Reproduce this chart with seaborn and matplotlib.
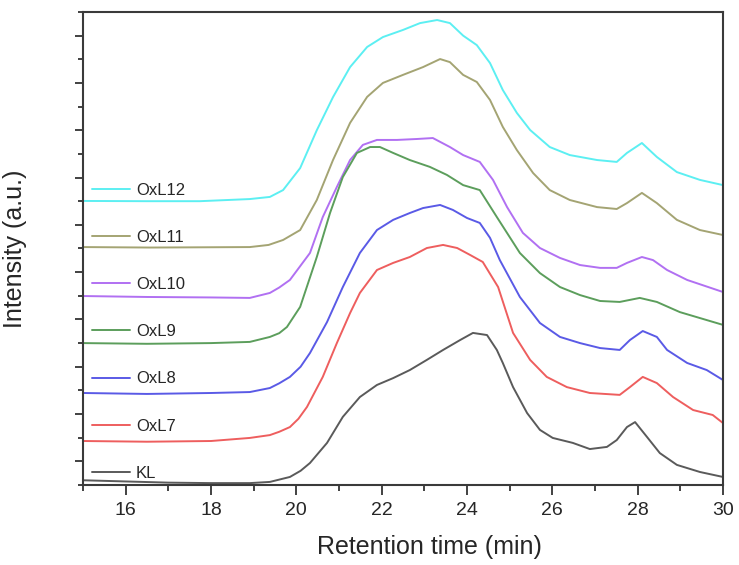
import numpy as np
import pandas as pd
import matplotlib
matplotlib.use("Agg")
import matplotlib.pyplot as plt
from matplotlib.ticker import MultipleLocator, FixedLocator
import seaborn as sns

# GPC traces (retention time in min, stacked intensity in a.u.)
kl_t = [15.0, 16.0, 17.0, 18.0, 18.91, 19.38, 19.85, 20.10, 20.32, 20.72, 21.09, 21.49, 21.89,
        22.27, 22.66, 23.06, 23.44, 23.84, 24.14, 24.47, 24.70, 24.84, 25.08, 25.41, 25.71,
        26.01, 26.48, 26.88, 27.28, 27.51, 27.75, 27.94, 28.22, 28.52, 28.92, 29.46, 30.0]
kl_y = [0.20, 0.15, 0.10, 0.08, 0.08, 0.13, 0.34, 0.60, 0.93, 1.78, 2.88, 3.72, 4.23,
        4.52, 4.86, 5.29, 5.71, 6.13, 6.43, 6.34, 5.71, 5.16, 4.14, 3.04, 2.33,
        1.99, 1.78, 1.52, 1.61, 1.90, 2.45, 2.66, 2.03, 1.35, 0.85, 0.55, 0.34]

oxl7_t = [15.0, 16.5, 18.0, 18.91, 19.38, 19.60, 19.85, 20.05, 20.25, 20.62, 20.95, 21.26, 21.49,
          21.89, 22.27, 22.66, 23.06, 23.44, 23.77, 24.07, 24.37, 24.73, 25.08, 25.48, 25.87,
          26.34, 26.88, 27.58, 27.82, 28.12, 28.45, 28.83, 29.30, 29.76, 30.0]
oxl7_y = [1.86, 1.83, 1.86, 1.99, 2.11, 2.25, 2.45, 2.80, 3.30, 4.57, 6.00, 7.27, 8.12,
          9.09, 9.39, 9.64, 10.02, 10.15, 10.02, 9.73, 9.43, 8.37, 6.43, 5.29, 4.57,
          4.14, 3.89, 3.81, 4.14, 4.57, 4.31, 3.72, 3.17, 2.96, 2.62]

oxl8_t = [15.0, 16.5, 18.0, 18.91, 19.38, 19.60, 19.85, 20.10, 20.32, 20.72, 21.09, 21.49,
          21.89, 22.27, 22.66, 22.97, 23.37, 23.67, 24.0, 24.30, 24.54, 24.77, 25.24, 25.71,
          26.18, 26.65, 27.12, 27.58, 27.82, 28.12, 28.45, 28.69, 29.16, 29.62, 30.0]
oxl8_y = [3.89, 3.85, 3.89, 3.93, 4.10, 4.30, 4.57, 5.00, 5.58, 6.89, 8.37, 9.81,
          10.78, 11.21, 11.50, 11.71, 11.84, 11.63, 11.29, 11.08, 10.45, 9.51, 7.95, 6.85,
          6.26, 6.00, 5.79, 5.71, 6.13, 6.51, 6.26, 5.71, 5.16, 4.86, 4.44]

oxl9_t = [15.0, 16.5, 18.0, 18.91, 19.38, 19.60, 19.78, 20.09, 20.48, 20.79, 21.09, 21.42,
          21.73, 21.96, 22.27, 22.66, 23.13, 23.53, 23.91, 24.30, 24.70, 25.24, 25.71, 26.18,
          26.65, 27.12, 27.58, 28.05, 28.45, 28.99, 30.0]
oxl9_y = [6.00, 5.97, 6.00, 6.05, 6.26, 6.42, 6.68, 7.53, 9.64, 11.50, 13.02, 14.04,
          14.29, 14.29, 14.04, 13.74, 13.45, 13.11, 12.68, 12.47, 11.33, 9.81, 8.96, 8.37,
          8.03, 7.78, 7.74, 7.91, 7.74, 7.31, 6.77]

oxl10_t = [15.0, 16.5, 18.0, 18.91, 19.38, 19.60, 19.85, 20.32, 20.62, 20.95, 21.26, 21.56,
           21.89, 22.36, 22.83, 23.20, 23.60, 23.91, 24.30, 24.61, 24.94, 25.31, 25.71, 26.18,
           26.65, 27.12, 27.51, 27.75, 28.10, 28.36, 28.69, 29.16, 30.0]
oxl10_y = [7.99, 7.95, 7.93, 7.91, 8.12, 8.35, 8.67, 9.81, 11.33, 12.60, 13.74, 14.38,
           14.59, 14.59, 14.63, 14.67, 14.29, 13.95, 13.66, 12.90, 11.75, 10.66, 10.02, 9.60,
           9.30, 9.18, 9.18, 9.39, 9.64, 9.51, 9.09, 8.67, 8.16]

oxl11_t = [15.0, 16.57, 18.91, 19.35, 19.69, 20.09, 20.48, 20.86, 21.26, 21.66, 22.03, 22.50,
           22.97, 23.37, 23.60, 23.91, 24.23, 24.54, 24.84, 25.17, 25.55, 25.94, 26.41, 27.05,
           27.51, 27.75, 28.10, 28.45, 28.92, 29.46, 30.0]
oxl11_y = [10.06, 10.04, 10.06, 10.15, 10.36, 10.78, 12.05, 13.74, 15.31, 16.41, 17.00, 17.34,
           17.67, 18.01, 17.88, 17.34, 17.04, 16.28, 15.14, 14.16, 13.19, 12.47, 12.05, 11.75,
           11.67, 11.92, 12.35, 11.92, 11.21, 10.78, 10.57]

oxl12_t = [15.0, 16.5, 17.74, 18.91, 19.38, 19.69, 20.09, 20.48, 20.86, 21.26, 21.66, 22.03,
           22.50, 22.90, 23.30, 23.60, 23.91, 24.23, 24.54, 24.84, 25.17, 25.48, 25.94, 26.41,
           27.05, 27.51, 27.75, 28.10, 28.45, 28.92, 29.46, 30.0]
oxl12_y = [12.01, 12.00, 12.00, 12.09, 12.18, 12.47, 13.40, 15.00, 16.40, 17.67, 18.52, 18.94,
           19.24, 19.53, 19.66, 19.53, 19.00, 18.60, 17.84, 16.70, 15.73, 15.01, 14.29, 13.95,
           13.74, 13.66, 14.04, 14.46, 13.87, 13.23, 12.90, 12.68]

labels = ["OxL12", "OxL11", "OxL10", "OxL9", "OxL8", "OxL7", "KL"]
colors = ["#5CEFF2", "#A4A473", "#B170F2", "#5C9E5C", "#5A5AE6", "#EE5E5E", "#5A5A5A"]
xticks = [16, 18, 20, 22, 24, 26, 28, 30]

series = {
    "OxL12": (oxl12_t, oxl12_y),
    "OxL11": (oxl11_t, oxl11_y),
    "OxL10": (oxl10_t, oxl10_y),
    "OxL9": (oxl9_t, oxl9_y),
    "OxL8": (oxl8_t, oxl8_y),
    "OxL7": (oxl7_t, oxl7_y),
    "KL": (kl_t, kl_y),
}
df = pd.concat(
    [pd.DataFrame({"time": t, "intensity": y, "sample": name}) for name, (t, y) in series.items()],
    ignore_index=True,
)

sns.set_style("ticks")
plt.rcParams["font.family"] = ["Liberation Sans", "DejaVu Sans"]

fig = plt.figure(figsize=(7.39, 5.65), dpi=100)
ax = fig.add_axes([0.1123, 0.1416, 0.866, 0.8372])

sns.lineplot(data=df, x="time", y="intensity", hue="sample", hue_order=labels,
             palette=dict(zip(labels, colors)), sort=False, estimator=None,
             linewidth=1.4, ax=ax)
for ln in ax.lines:
    ln.set_solid_joinstyle("round")

ax.set_xlim(15, 30)
ax.set_ylim(0, 20)
ax.xaxis.set_major_locator(FixedLocator(xticks))
ax.xaxis.set_minor_locator(MultipleLocator(1))
ax.yaxis.set_major_locator(FixedLocator(np.arange(1, 20, 2)))
ax.yaxis.set_minor_locator(FixedLocator(np.arange(0, 21, 2)))
ax.set_yticklabels([])
ax.set_xticklabels([str(v) for v in xticks])

ax.tick_params(axis="x", which="major", direction="out", length=7, width=1.3,
               labelsize=14, color="#333333", pad=5)
ax.tick_params(axis="x", which="minor", direction="out", length=4, width=1.3, color="#333333")
ax.tick_params(axis="y", which="major", direction="out", length=6, width=1.3, color="#333333")
ax.tick_params(axis="y", which="minor", direction="out", length=3.5, width=1.3, color="#333333")

for sp in ax.spines.values():
    sp.set_visible(True)
    sp.set_linewidth(1.5)
    sp.set_color("#3a3a3a")

ax.set_xlabel("Retention time (min)", fontsize=18)
ax.set_ylabel("Intensity (a.u.)", fontsize=18)
ax.xaxis.set_label_coords(0.542, -0.105)
ax.yaxis.set_label_coords(-0.087, 0.5)

handles, hl = ax.get_legend_handles_labels()
ax.legend(handles, hl, loc="upper left", bbox_to_anchor=(0.014, 0.639),
          frameon=False, fontsize=12, handlelength=2.3, handletextpad=0.35,
          labelspacing=1.93, borderpad=0, borderaxespad=0)

fig.savefig("out.png", dpi=100)
